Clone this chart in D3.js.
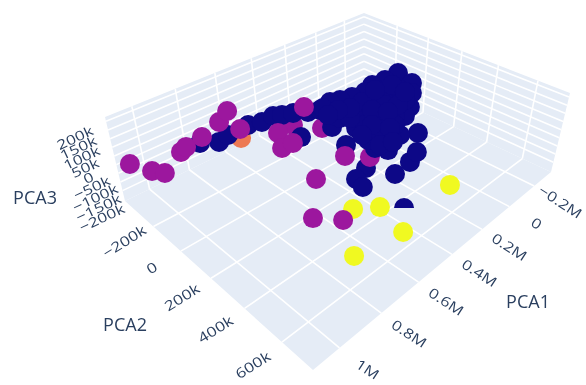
<!DOCTYPE html>
<html>
<head>
<meta charset="utf-8">
<script src="https://cdnjs.cloudflare.com/ajax/libs/d3/7.8.5/d3.min.js"></script>
<style>
body { margin: 0; background: #fff; }
svg { display: block; filter: blur(0.45px); }
text { font-family: "Open Sans", sans-serif; fill: #2a3f5f; }
</style>
</head>
<body>
<div id="chart"></div>
<script>
// values in thousands, listed in drawing order (back to front)
var pca1 = [460,379,674,612,824,757,699,590,
  532,465,440,394,341,301,482,380,
  422,495,505,370,274,209,480,364,
  -93,-22,33,93,147,195,230,279,
  -65,-17,61,102,115,191,283,310,
  296,274,333,223,173,93,33,-11,
  183,116,239,236,266,248,157,19,
  244,104,147,193,156,63,119,227,
  190,296,288,243,234,295,-21,-2,
  47,1113,1071,1043,927,893,806,694,
  623,649,334,539,592,536,431,607,
  754,676,540,569,775,272];
var pca2 = [-88,9,-175,427,-254,-216,-233,-236,
  -213,-218,-185,-163,-123,-87,-12,157,
  313,328,375,423,419,401,566,280,
  29,12,-18,-6,-37,-66,-96,-90,
  137,178,233,241,328,292,307,258,
  205,113,24,-6,40,56,92,113,
  169,196,133,247,5,218,233,170,
  46,127,27,-4,96,167,158,163,
  234,169,266,298,-40,-41,57,150,
  13,-300,-210,-164,-231,-247,-263,-298,
  -336,-212,-157,-95,-6,-2,202,216,
  358,438,498,639,592,621];
var pca3 = [10,0,0,-80,
  10,0,0,0,0,0,10,10,10,20,
  -10,-20,-40,-50,-60,-40,-30,-20,-70,
  -30,
  120,100,80,70,50,40,30,20,120,100,80,50,0,10,-20,-20,-10,0,-10,10,20,50,70,90,30,40,10,10,0,0,20,70,10,
  60,50,20,40,60,40,20,20,0,-10,0,10,10,90,100,70,
  30,20,20,30,30,30,40,50,20,20,0,-10,-10,-30,-50,-80,-90,
  -70,-90,-100,-40];
var cluster = [1,1,2,3,
  0,0,0,0,0,0,0,0,0,0,
  0,0,0,0,0,0,0,0,0,
  1,
  0,0,0,0,0,0,0,0,0,0,0,0,0,0,0,0,0,0,0,0,0,0,0,0,0,0,0,0,0,0,0,0,0,
  0,0,0,0,0,0,0,0,0,0,0,0,0,0,0,0,
  1,1,1,1,1,1,1,1,1,1,1,1,1,1,1,1,1,
  3,3,3,3];
var halfShown = [22]; // this marker is cut flat along its lower half in the picture

var xTicks = [-200,0,200,400,600,800,1000];
var yTicks = [-200,0,200,400,600];
var zTicks = [-200,-150,-100,-50,0,50,100,150,200];
var clusterColors = ["#0d0887","#9c179e","#ed7953","#f0f921"];

var width = 586, height = 385, radius = 10;
var x = d3.scaleLinear().domain([-346,1115]).range([0,1]);
var y = d3.scaleLinear().domain([-430,750]).range([0,1]);
var z = d3.scaleLinear().domain([-260,225]).range([0,1]);
var color = d3.scaleOrdinal().domain([0,1,2,3]).range(clusterColors);

// corners of the box on screen: floor and top, back / left / front / right
var floorQuad = [[364,85],[125,201],[313,370],[551,172]];
var topQuad = [[364,13],[105,117],[311,277],[570,93]];

function planeAt(w) {
  var q = floorQuad.map(function(p,i){ return [p[0]+(topQuad[i][0]-p[0])*w, p[1]+(topQuad[i][1]-p[1])*w]; });
  var dx1=q[1][0]-q[2][0], dx2=q[3][0]-q[2][0], sx=q[0][0]-q[1][0]+q[2][0]-q[3][0];
  var dy1=q[1][1]-q[2][1], dy2=q[3][1]-q[2][1], sy=q[0][1]-q[1][1]+q[2][1]-q[3][1];
  var den=dx1*dy2-dx2*dy1;
  var g=(sx*dy2-dx2*sy)/den, h=(dx1*sy-sx*dy1)/den;
  return {a:q[1][0]-q[0][0]+g*q[1][0], b:q[3][0]-q[0][0]+h*q[3][0], c:q[0][0],
          d:q[1][1]-q[0][1]+g*q[1][1], e:q[3][1]-q[0][1]+h*q[3][1], f:q[0][1], g:g, h:h};
}
function project(px,py,pz) {
  var m=planeAt(z(pz)), u=x(px), v=y(py), t=m.g*u+m.h*v+1;
  return [(m.a*u+m.b*v+m.c)/t, (m.d*u+m.e*v+m.f)/t];
}

var svg = d3.select("#chart").append("svg").attr("width",width).attr("height",height);
var xMin=x.domain()[0],xMax=x.domain()[1],yMin=y.domain()[0],yMax=y.domain()[1],zMin=z.domain()[0],zMax=z.domain()[1];
var line = d3.line();

var walls = [
  [project(xMin,yMin,zMin),project(xMax,yMin,zMin),project(xMax,yMin,zMax),project(xMin,yMin,zMax)],
  [project(xMin,yMin,zMin),project(xMin,yMax,zMin),project(xMin,yMax,zMax),project(xMin,yMin,zMax)],
  [project(xMin,yMin,zMin),project(xMax,yMin,zMin),project(xMax,yMax,zMin),project(xMin,yMax,zMin)]
];
svg.selectAll("path.wall").data(walls).enter().append("path")
  .attr("class","wall")
  .attr("d",function(d){ return line(d)+"Z"; })
  .attr("fill","#E5ECF6");

var grid = [];
xTicks.forEach(function(t){
  grid.push([project(t,yMin,zMin),project(t,yMax,zMin)]);
  grid.push([project(t,yMin,zMin),project(t,yMin,zMax)]);
});
yTicks.forEach(function(t){
  grid.push([project(xMin,t,zMin),project(xMax,t,zMin)]);
  grid.push([project(xMin,t,zMin),project(xMin,t,zMax)]);
});
zTicks.forEach(function(t){
  grid.push([project(xMin,yMin,t),project(xMax,yMin,t)]);
  grid.push([project(xMin,yMin,t),project(xMin,yMax,t)]);
});
svg.selectAll("path.grid").data(grid).enter().append("path")
  .attr("class","grid")
  .attr("d",line)
  .attr("fill","none")
  .attr("stroke","#fff")
  .attr("stroke-width",1.6);

var halfArc = d3.arc().innerRadius(0).outerRadius(radius).startAngle(-Math.PI/2).endAngle(Math.PI/2);
var fullArc = d3.arc().innerRadius(0).outerRadius(radius).startAngle(0).endAngle(2*Math.PI);
var points = pca1.map(function(v,i){ return {p:project(v,pca2[i],pca3[i]), c:cluster[i], half:halfShown.indexOf(i)>=0}; });
svg.selectAll("path.point").data(points).enter().append("path")
  .attr("class","point")
  .attr("transform",function(d){ return "translate("+d.p[0]+","+d.p[1]+")"; })
  .attr("d",function(d){ return d.half ? halfArc() : fullArc(); })
  .attr("fill",function(d){ return color(d.c); });

function fmtM(v){ return v===0 ? "0" : String(v/1000).replace("-","\u2212")+"M"; }
function fmtK(v){ return v===0 ? "0" : String(v).replace("-","\u2212")+"k"; }
function label(t,X,Y,rot,sx,sy){
  svg.append("text")
    .attr("transform","translate("+X+","+Y+") rotate("+rot+") scale("+sx+","+sy+")")
    .attr("text-anchor","middle")
    .attr("dy","0.35em")
    .attr("font-size",15)
    .text(t);
}
var xDx = d3.scaleLinear().domain([-200,0,1000]).range([26,27,28]);
var xDy = d3.scaleLinear().domain([-200,1000]).range([16,21.5]);
var yDy = d3.scaleLinear().domain([-200,600]).range([15,23]);
var zLabelX = d3.scaleLinear().domain([200,-200]).range([75,102]);
var zLabelY = d3.scaleLinear().domain([200,-200]).range([138,218]);
xTicks.forEach(function(t){ var p=project(t,yMax,zMin); label(fmtM(t),p[0]+xDx(t),p[1]+xDy(t),33,1.12,0.92); });
yTicks.forEach(function(t){ var p=project(xMax,t,zMin); label(fmtK(t),p[0]-29,p[1]+yDy(t),-32,1.15,0.92); });
zTicks.forEach(function(t){ label(fmtK(t),zLabelX(t),zLabelY(t),-25,1.15,0.88); });

svg.append("text").attr("x",528).attr("y",302).attr("text-anchor","middle").attr("dy","0.35em").attr("font-size",18).text("PCA1");
svg.append("text").attr("x",125).attr("y",325).attr("text-anchor","middle").attr("dy","0.35em").attr("font-size",18).text("PCA2");
svg.append("text").attr("x",35).attr("y",198).attr("text-anchor","middle").attr("dy","0.35em").attr("font-size",18).text("PCA3");
</script>
</body>
</html>
